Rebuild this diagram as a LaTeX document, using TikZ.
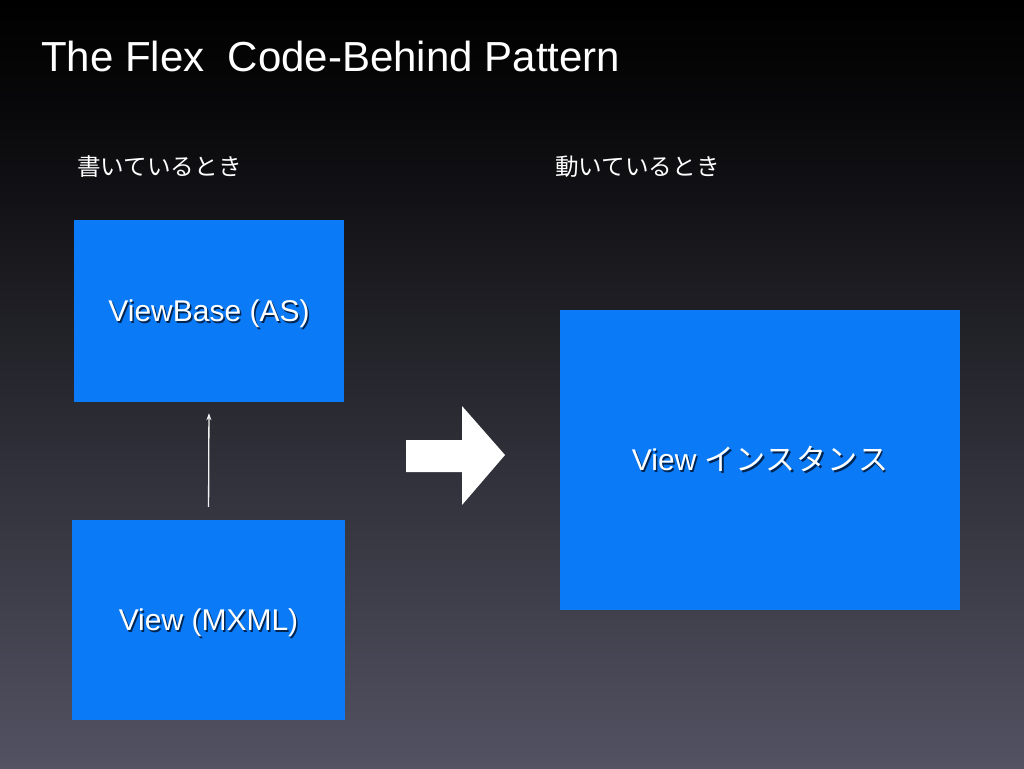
\documentclass[tikz,border=0pt]{standalone}
\usepackage{fontspec}
\setmainfont{Liberation Sans}
\newfontfamily\jp{Noto Sans CJK JP}
\newfontfamily\jpwide{Noto Sans CJK JP}[LetterSpace=3]
\usetikzlibrary{positioning}
\usetikzlibrary{arrows.meta}
\definecolor{boxblue}{RGB}{10,122,246}
\definecolor{bgbot}{RGB}{82,82,98}
\definecolor{bgdark}{RGB}{8,8,10}
\definecolor{shadow}{RGB}{0,36,80}
\pgfdeclareverticalshading{slidebg}{100bp}{color(0bp)=(bgbot); color(25bp)=(bgbot); color(68bp)=(bgdark); color(75bp)=(black); color(100bp)=(black)}
\newcommand\shtext[1]{\makebox[0pt][l]{\hspace{1.5pt}\raisebox{-1.5pt}{\color{shadow}#1}}#1}

\begin{document}
\begin{tikzpicture}[x=1pt,y=-1pt,
    box/.style={fill=boxblue, inner sep=0pt, text=white, text height=21.6pt, text depth=0pt, font=\fontsize{30}{36}\selectfont},
    tag/.style={anchor=west, inner sep=0pt, text=white, font=\jp\fontsize{23.6}{28}\selectfont}]
  % Background
  \shade[shading=slidebg] (0,0) rectangle (1024,768);
  \useasboundingbox (0,0) rectangle (1024,768);

  % Title
  \node[anchor=base west, inner sep=0pt, text=white, font=\fontsize{42}{50}\selectfont] (title) at (41,71) {The Flex\ \ Code-Behind Pattern};

  % Labels
  \node[tag] (write) at (77,167) {書いているとき};
  \node[tag] (run) at (555,167) {動いているとき};

  % Boxes
  \node[box, minimum width=270, minimum height=182] (base) at (209,311) {\shtext{ViewBase (AS)}};
  \node[box, minimum width=273, minimum height=200] (mxml) at (208.5,620) {\shtext{View (MXML)}};
  \node[box, minimum width=400, minimum height=300] (inst) at (760,460) {\shtext{View {\jpwide インスタンス}}};

  % Inheritance
  \draw[white!90!gray, line width=1.3pt, -{Stealth[length=7pt,width=5pt]}, shorten <=13pt, shorten >=11pt] (mxml.north) -- (base.south);

  % Big arrow
  \fill[white] (406,440) -- (462,440) -- (462,406) -- (505,455) -- (462,505) -- (462,472) -- (406,472) -- cycle;
\end{tikzpicture}
\end{document}
